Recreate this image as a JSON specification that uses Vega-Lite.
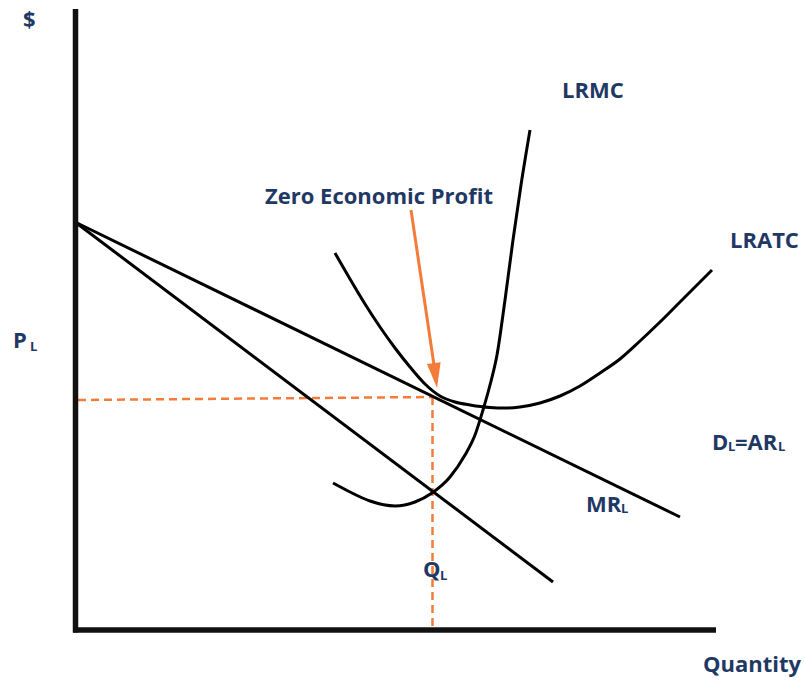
{
  "$schema": "https://vega.github.io/schema/vega-lite/v6.json",
  "autosize": {"type": "fit", "contains": "padding"},
  "width": 805,
  "height": 681,
  "padding": 0,
  "background": "white",
  "config": {"view": {"stroke": null}},
  "datasets": {
    "curves": [
      {"curve": "D", "q": 0, "p": 408}, {"curve": "D", "q": 605, "p": 113},
      {"curve": "MR", "q": 0, "p": 408}, {"curve": "MR", "q": 478, "p": 48},
      {"curve": "LRATC", "q": 260, "p": 377}, {"curve": "LRATC", "q": 275, "p": 351},
      {"curve": "LRATC", "q": 290, "p": 326}, {"curve": "LRATC", "q": 305, "p": 303},
      {"curve": "LRATC", "q": 320, "p": 282}, {"curve": "LRATC", "q": 335, "p": 263},
      {"curve": "LRATC", "q": 350, "p": 246}, {"curve": "LRATC", "q": 365, "p": 234},
      {"curve": "LRATC", "q": 380, "p": 228}, {"curve": "LRATC", "q": 395, "p": 225},
      {"curve": "LRATC", "q": 415, "p": 222.5}, {"curve": "LRATC", "q": 430, "p": 222},
      {"curve": "LRATC", "q": 445, "p": 223}, {"curve": "LRATC", "q": 465, "p": 227},
      {"curve": "LRATC", "q": 485, "p": 234}, {"curve": "LRATC", "q": 505, "p": 244},
      {"curve": "LRATC", "q": 525, "p": 257}, {"curve": "LRATC", "q": 545, "p": 271},
      {"curve": "LRATC", "q": 565, "p": 289}, {"curve": "LRATC", "q": 585, "p": 308},
      {"curve": "LRATC", "q": 605, "p": 328}, {"curve": "LRATC", "q": 625, "p": 348},
      {"curve": "LRATC", "q": 637, "p": 360},
      {"curve": "LRMC", "q": 258, "p": 147}, {"curve": "LRMC", "q": 275, "p": 138},
      {"curve": "LRMC", "q": 295, "p": 129}, {"curve": "LRMC", "q": 320, "p": 124},
      {"curve": "LRMC", "q": 340, "p": 128}, {"curve": "LRMC", "q": 357, "p": 137},
      {"curve": "LRMC", "q": 375, "p": 153}, {"curve": "LRMC", "q": 390, "p": 175},
      {"curve": "LRMC", "q": 400, "p": 195}, {"curve": "LRMC", "q": 408, "p": 220},
      {"curve": "LRMC", "q": 415, "p": 245}, {"curve": "LRMC", "q": 422, "p": 275},
      {"curve": "LRMC", "q": 430, "p": 330}, {"curve": "LRMC", "q": 438, "p": 390},
      {"curve": "LRMC", "q": 446, "p": 445}, {"curve": "LRMC", "q": 455, "p": 500}
    ],
    "axes": [
      {"q": 0.5, "p": 621, "q2": 0.5, "p2": -2.5},
      {"q": -2, "p": 0, "q2": 641, "p2": 0}
    ],
    "dashes": [
      {"q": 3, "p": 230, "q2": 359, "p2": 233},
      {"q": 357.5, "p": 233, "q2": 357.5, "p2": -2}
    ],
    "arrow": [
      {"q": 336, "p": 420, "q2": 359, "p2": 265}
    ],
    "head": [
      {"q": 360.4, "p": 254.4}
    ],
    "labels": [
      {"text": "$", "q": -52, "p": 603},
      {"text": "LRMC", "q": 487, "p": 532},
      {"text": "Zero Economic Profit", "q": 190, "p": 426},
      {"text": "LRATC", "q": 655, "p": 382},
      {"text": "P", "q": -62, "p": 282},
      {"text": "D", "q": 637, "p": 180},
      {"text": "=AR", "q": 660, "p": 180},
      {"text": "MR", "q": 511, "p": 118},
      {"text": "Q", "q": 348, "p": 53},
      {"text": "Quantity", "q": 628, "p": -42}
    ],
    "subs": [
      {"text": "L", "q": -45, "p": 279},
      {"text": "L", "q": 653, "p": 179},
      {"text": "L", "q": 703, "p": 179},
      {"text": "L", "q": 546, "p": 117},
      {"text": "L", "q": 365, "p": 50}
    ]
  },
  "encoding": {
    "x": {"field": "q", "type": "quantitative", "axis": null,
          "scale": {"domain": [-75, 730], "zero": false, "nice": false}},
    "y": {"field": "p", "type": "quantitative", "axis": null,
          "scale": {"domain": [-51, 630], "zero": false, "nice": false}}
  },
  "layer": [
    {
      "data": {"name": "dashes"},
      "mark": {"type": "rule", "color": "#f47b3a", "strokeWidth": 2.5, "strokeDash": [8, 5]},
      "encoding": {"x2": {"field": "q2"}, "y2": {"field": "p2"}}
    },
    {
      "data": {"name": "curves"},
      "mark": {"type": "line", "color": "#000000", "strokeWidth": 3, "interpolate": "monotone"},
      "encoding": {"detail": {"field": "curve", "type": "nominal"}}
    },
    {
      "data": {"name": "axes"},
      "mark": {"type": "rule", "color": "#111111", "strokeWidth": 5.5},
      "encoding": {"x2": {"field": "q2"}, "y2": {"field": "p2"}}
    },
    {
      "data": {"name": "arrow"},
      "mark": {"type": "rule", "color": "#f47b3a", "strokeWidth": 3},
      "encoding": {"x2": {"field": "q2"}, "y2": {"field": "p2"}}
    },
    {
      "data": {"name": "head"},
      "mark": {"type": "point", "shape": "M-0.55,-1L0.55,-1L0,1Z", "filled": true, "color": "#f47b3a", "opacity": 1, "size": 625, "angle": -7.5}
    },
    {
      "data": {"name": "labels"},
      "mark": {"type": "text", "align": "left", "baseline": "alphabetic", "font": "Open Sans", "fontWeight": "bold", "fontSize": 22, "color": "#1f3864"},
      "encoding": {"text": {"field": "text"}}
    },
    {
      "data": {"name": "subs"},
      "mark": {"type": "text", "align": "left", "baseline": "alphabetic", "font": "Open Sans", "fontWeight": "bold", "fontSize": 13, "color": "#1f3864"},
      "encoding": {"text": {"field": "text"}}
    }
  ]
}
